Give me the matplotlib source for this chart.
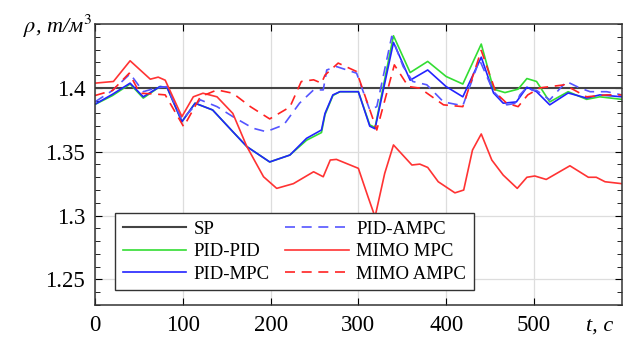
import numpy as np
import matplotlib.pyplot as plt
from matplotlib.ticker import MultipleLocator

plt.rcParams['font.family'] = ['Liberation Serif', 'DejaVu Serif']
plt.rcParams['mathtext.fontset'] = 'stix'

# SP
sp_t = [0, 600]
sp_v = [1.4, 1.4]

# PID-PID (green)
pidpid_t = [0, 20, 40, 55, 74, 82, 99, 114, 134, 157, 173, 199, 222, 241, 258, 262, 271, 279, 300,
            313, 319, 340, 359, 379, 400, 419, 440, 454, 467, 482, 492, 503, 518, 539, 560, 575, 600]
pidpid_v = [1.387, 1.394, 1.403, 1.392, 1.401, 1.4005, 1.3735, 1.388, 1.3827, 1.3657, 1.354, 1.342,
            1.3474, 1.359, 1.365, 1.379, 1.394, 1.397, 1.397,
            1.371, 1.369, 1.4408, 1.412, 1.4207, 1.4089, 1.403, 1.4343, 1.399, 1.3963, 1.399,
            1.4073, 1.405, 1.389, 1.397, 1.391, 1.393, 1.391]

# PID-MPC (blue solid)
pidmpc_t = [0, 20, 40, 55, 74, 82, 99, 114, 134, 157, 173, 199, 222, 241, 258, 262, 271, 279, 300,
            313, 319, 340, 359, 379, 400, 419, 440, 454, 465, 480, 492, 503, 518, 539, 560, 575, 600]
pidmpc_v = [1.3872, 1.395, 1.4037, 1.393, 1.401, 1.4005, 1.3735, 1.388, 1.3827, 1.3657, 1.354, 1.342,
            1.3474, 1.3605, 1.367, 1.380, 1.3945, 1.397, 1.397,
            1.370, 1.368, 1.4356, 1.406, 1.414, 1.401, 1.393, 1.424, 1.396, 1.388, 1.389,
            1.4005, 1.397, 1.3867, 1.396, 1.392, 1.3945, 1.393]

# PID-AMPC (blue dashed)
pidampc_t = [0, 20, 40, 55, 70, 82, 99, 120, 139, 157, 180, 195, 215, 233, 249, 260, 264, 275, 298,
             313, 321, 338, 351, 362, 378, 397, 419, 438, 454, 469, 480, 484, 490, 503, 518, 537,
             552, 564, 583, 600]
pidampc_v = [1.389, 1.398, 1.411, 1.397, 1.400, 1.401, 1.375, 1.3906, 1.3853, 1.3775, 1.3684, 1.3657,
             1.371, 1.388, 1.3984, 1.3984, 1.414, 1.4167, 1.4115,
             1.3827, 1.3853, 1.4403, 1.4167, 1.405, 1.4024, 1.389, 1.386, 1.422, 1.397, 1.3867,
             1.388, 1.3945, 1.399, 1.398, 1.3906, 1.405, 1.400, 1.397, 1.397, 1.3945]

# MIMO MPC (red solid)
mimompc_t = [0, 21, 40, 63, 72, 80, 99, 112, 123, 139, 157, 173, 192, 207, 226, 249, 260, 268, 275,
             300, 311, 319, 330, 340, 361, 370, 379, 391, 410, 420, 430, 440, 452, 465, 481, 492,
             501, 514, 541, 562, 571, 581, 600]
mimompc_v = [1.4037, 1.405, 1.4212, 1.4068, 1.4084, 1.406, 1.3775, 1.393, 1.3958, 1.393, 1.380, 1.354,
             1.3304, 1.3213, 1.325, 1.3343, 1.3304, 1.3435, 1.344,
             1.337, 1.3147, 1.299, 1.333, 1.3553, 1.3396, 1.3403, 1.3377, 1.3265, 1.3178, 1.320,
             1.3513, 1.3639, 1.3435, 1.3317, 1.3213, 1.330, 1.331, 1.3283, 1.339, 1.330, 1.330,
             1.3265, 1.325]

# MIMO AMPC (red dashed)
mimoampc_t = [0, 20, 39, 51, 66, 80, 101, 120, 139, 157, 177, 199, 222, 235, 249, 258, 262, 277, 298,
              321, 341, 357, 370, 397, 419, 440, 457, 469, 482, 493, 507, 535, 560, 583, 600]
mimoampc_v = [1.394, 1.398, 1.4115, 1.3958, 1.3953, 1.3945, 1.3696, 1.393, 1.3984, 1.3958, 1.3853,
              1.3757, 1.385, 1.405, 1.4063, 1.4037, 1.41, 1.4194, 1.4128,
              1.367, 1.418, 1.401, 1.3998, 1.3867, 1.3853, 1.4293, 1.3958, 1.388, 1.3853, 1.3945,
              1.400, 1.4024, 1.393, 1.3945, 1.3945]

fig = plt.figure(figsize=(6.44, 3.41), dpi=100)
ax = fig.add_axes([0.1475, 0.1056, 0.8179, 0.824])

ax.plot(sp_t, sp_v, color='#444444', lw=1.5, label='SP')
ax.plot(pidpid_t, pidpid_v, color='#33dd33', lw=1.2, label='PID-PID')
ax.plot(pidmpc_t, pidmpc_v, color='#2222ff', lw=1.2, label='PID-MPC')
ax.plot(pidampc_t, pidampc_v, color='#5555ff', lw=1.2, ls=(0, (6, 4)), label='PID-AMPC')
ax.plot(mimompc_t, mimompc_v, color='#ff3333', lw=1.2, label='MIMO MPC')
ax.plot(mimoampc_t, mimoampc_v, color='#ff2222', lw=1.2, ls=(0, (6, 4)), label='MIMO AMPC')

ax.set_xlim(0, 600)
ax.set_ylim(1.23, 1.45)
ax.set_xticks([0, 100, 200, 300, 400, 500])
ax.set_yticks([1.25, 1.3, 1.35, 1.4])
ax.set_yticklabels(['1.25', '1.3', '1.35', '1.4'])
ax.yaxis.set_minor_locator(MultipleLocator(0.01))
ax.grid(True, color='#dddddd', lw=0.9)
ax.set_axisbelow(True)
ax.tick_params(which='both', direction='in', top=True, right=True, labelsize=16.5, pad=7)
ax.tick_params(which='major', length=5)
ax.tick_params(which='minor', length=3.5)
for s in ax.spines.values():
    s.set_linewidth(1.1)
    s.set_color('#333333')

leg = ax.legend(ncol=2, loc='lower left', bbox_to_anchor=(0.038, 0.053), borderaxespad=0,
                fontsize=13.5, handlelength=3.4, handletextpad=0.4, columnspacing=0.8,
                labelspacing=0.28, borderpad=0.4,
                fancybox=False, framealpha=1, edgecolor='#333333')
leg.get_frame().set_linewidth(1.0)

fig.text(0.035, 0.905, r'$\rho$, т/м$^3$', fontsize=16, style='italic')
fig.text(0.91, 0.03, 't, с', fontsize=16, style='italic')

fig.savefig('out.png', dpi=100)
